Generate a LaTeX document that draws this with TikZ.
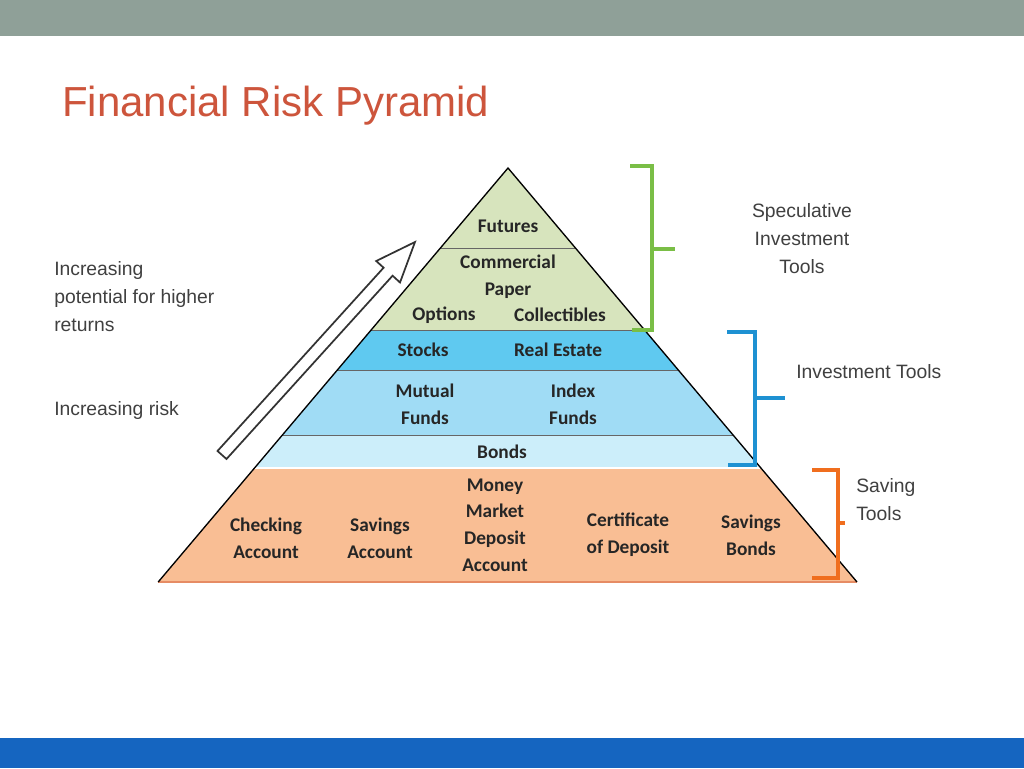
\documentclass[tikz,border=0pt]{standalone}
\usepackage{fontspec}
\setmainfont{Liberation Sans}
\newfontfamily\carlitofont{Carlito}
\begin{document}
\begin{tikzpicture}[x=0.75pt,y=-0.75pt,
  pl/.style={font=\carlitofont\bfseries\fontsize{14.5}{20}\selectfont,text=black!85,align=center,inner sep=0},
  lb/.style={font=\fontsize{14.5}{21}\selectfont,text=black!75,inner sep=0},
  layer/.style={draw=black!60,line width=0.6pt},
  brk/.style={line width=2.6pt}]
\useasboundingbox (0,0) rectangle (1024,768);
\fill[white] (0,0) rectangle (1024,768);
\fill[fill={rgb,255:red,143;green,160;blue,152}] (0,0) rectangle (1024,36);
\fill[fill={rgb,255:red,21;green,101;blue,192}] (0,738) rectangle (1024,768);
\node[anchor=west,inner sep=0,text={rgb,255:red,205;green,85;blue,60},font=\fontsize{31.5}{40}\selectfont] (title) at (62,106) {Financial Risk Pyramid};
% layers
\fill[fill={rgb,255:red,215;green,228;blue,189}] (508,168) -- (575.4,248) -- (440.4,248) -- cycle;
\fill[fill={rgb,255:red,215;green,228;blue,189}] (440.4,248) -- (575.4,248) -- (644.6,330) -- (371.1,330) -- cycle;
\fill[fill={rgb,255:red,95;green,201;blue,240}] (371.1,330) -- (644.6,330) -- (678.3,370) -- (337.3,370) -- cycle;
\fill[fill={rgb,255:red,160;green,220;blue,245}] (337.3,370) -- (678.3,370) -- (733.1,435) -- (282.4,435) -- cycle;
\fill[fill={rgb,255:red,204;green,238;blue,250}] (282.4,435) -- (733.1,435) -- (760.9,468) -- (254.5,468) -- cycle;
\fill[fill={rgb,255:red,249;green,190;blue,148}] (254.5,468) -- (760.9,468) -- (857,582) -- (158.2,582) -- cycle;
\draw[layer] (440.4,248) -- (575.4,248);
\draw[layer] (371.1,330) -- (644.6,330);
\draw[layer] (337.3,370) -- (678.3,370);
\draw[layer] (282.4,435) -- (733.1,435);
\draw[layer,draw=white,line width=1.5pt] (254.5,468) -- (760.9,468);
\draw[draw={rgb,255:red,230;green,140;blue,100},line width=1.2pt] (158.2,582) -- (857,582);
\draw[line width=1pt] (158.2,582) -- (508,168) -- (857,582);
% pyramid labels
\node[pl] (fut) at (508,226) {Futures};
\node[pl] (cp) at (508,277) {Commercial\\Paper};
\node[pl] (opt) at (444,315) {Options};
\node[pl] (col) at (560,315) {Collectibles};
\node[pl] (stk) at (423,350) {Stocks};
\node[pl] (re) at (558,350) {Real Estate};
\node[pl] (mf) at (425,404) {Mutual\\Funds};
\node[pl] (ixf) at (573,404) {Index\\Funds};
\node[pl] (bd) at (502,452) {Bonds};
\node[pl] (ca) at (266,538) {Checking\\Account};
\node[pl] (sa) at (380,538) {Savings\\Account};
\node[pl] (mm) at (495,525) {Money\\Market\\Deposit\\Account};
\node[pl] (cd) at (628,535) {Certificate\\of Deposit};
\node[pl] (sb) at (751,535) {Savings\\Bonds};
% arrow
\draw[line width=1.3pt,draw=black!80,fill=white,line join=miter] (217.5,451.0) -- (383.6,267.7) -- (376.2,261.0) -- (415,242) -- (400.0,282.5) -- (392.6,275.7) -- (226.5,459.0) -- cycle;
% brackets
\draw[brk,draw={rgb,255:red,122;green,190;blue,70}] (630,166) -- (652,166) -- (652,330) -- (632,330) (652,249) -- (675,249);
\draw[brk,draw={rgb,255:red,30;green,145;blue,210}] (727,332) -- (755,332) -- (755,465) -- (728,465) (755,398) -- (785,398);
\draw[brk,draw={rgb,255:red,240;green,110;blue,30}] (812,470) -- (838,470) -- (838,578) -- (812,578) (838,523) -- (845,523);
% side labels
\node[lb,anchor=north west,align=left] (inc) at (54,261) {Increasing\\potential for higher\\returns};
\node[lb,anchor=west] (risk) at (54,410) {Increasing risk};
\node[lb,align=center] (spec) at (802,239) {Speculative\\Investment\\Tools};
\node[lb,anchor=west] (inv) at (796,372) {Investment Tools};
\node[lb,anchor=north west,align=left] (sav) at (856,478) {Saving\\Tools};
\end{tikzpicture}
\end{document}
